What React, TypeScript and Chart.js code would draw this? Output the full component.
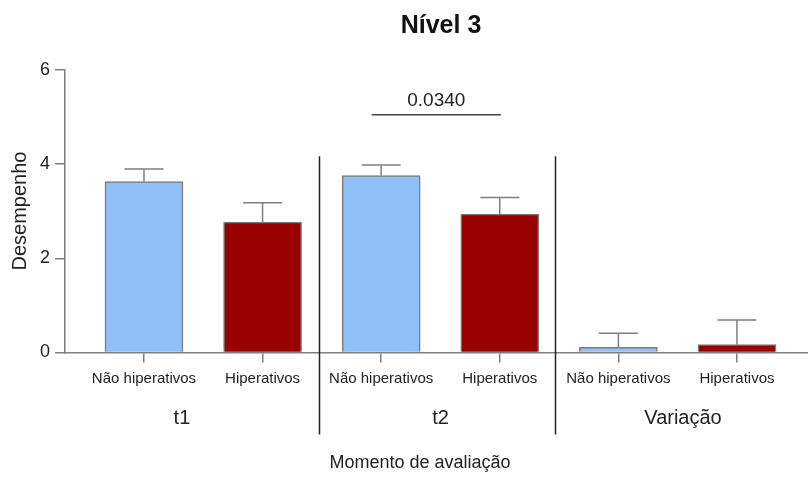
import React, { useEffect, useRef } from "react";
import { Chart, registerables } from "chart.js";

Chart.register(...registerables);

const subLabels = ["Não hiperativos", "Hiperativos", "Não hiperativos", "Hiperativos", "Não hiperativos", "Hiperativos"];
const positions = [1, 2, 3, 4, 5, 6];
const means = [3.63, 2.77, 3.76, 2.94, 0.11, 0.17];
const upper = [3.9, 3.18, 3.98, 3.29, 0.41, 0.69];
const barColors = ["#90BFF9", "#990000", "#90BFF9", "#990000", "#90BFF9", "#990000"];
const groupLabels = ["t1", "t2", "Variação"];
const groupPositions = [1.32, 3.5, 5.545];
const dividerPositions = [2.476, 4.466];
const dividerTop = 4.17;
const sigFrom = 2.92;
const sigTo = 4.01;
const sigLevel = 5.05;
const sigText = "0.0340";
const yTicks = [0, 2, 4, 6];

const FONT = "'Liberation Sans', Arial, Helvetica, sans-serif";

export default function App() {
  const ref = useRef<HTMLCanvasElement | null>(null);

  useEffect(() => {
    const canvas = ref.current;
    if (!canvas) return;

    const overlay = {
      id: "overlay",
      afterDatasetsDraw(chart: any) {
        const ctx = chart.ctx;
        const xs = chart.scales.x;
        const ys = chart.scales.y;
        ctx.save();
        // error bars
        ctx.strokeStyle = "#7f7f7f";
        ctx.lineWidth = 1.5;
        positions.forEach((p, i) => {
          const cx = xs.getPixelForValue(p);
          const y0 = ys.getPixelForValue(means[i]);
          const y1 = ys.getPixelForValue(upper[i]);
          ctx.beginPath();
          ctx.moveTo(cx, y0);
          ctx.lineTo(cx, y1);
          ctx.moveTo(cx - 19.5, y1);
          ctx.lineTo(cx + 19.5, y1);
          ctx.stroke();
        });
        // dividers
        ctx.strokeStyle = "#222";
        ctx.lineWidth = 1.5;
        dividerPositions.forEach((d) => {
          const x = Math.round(xs.getPixelForValue(d)) + 0.5;
          ctx.beginPath();
          ctx.moveTo(x, ys.getPixelForValue(dividerTop));
          ctx.lineTo(x, chart.chartArea.bottom + 82);
          ctx.stroke();
        });
        // significance
        const sy = ys.getPixelForValue(sigLevel);
        ctx.strokeStyle = "#444";
        ctx.lineWidth = 1.5;
        ctx.beginPath();
        ctx.moveTo(xs.getPixelForValue(sigFrom), sy);
        ctx.lineTo(xs.getPixelForValue(sigTo), sy);
        ctx.stroke();
        ctx.fillStyle = "#222";
        ctx.font = `19px ${FONT}`;
        ctx.textAlign = "center";
        ctx.textBaseline = "bottom";
        ctx.fillText(sigText, (xs.getPixelForValue(sigFrom) + xs.getPixelForValue(sigTo)) / 2, sy - 4);
        // group labels
        ctx.font = `20px ${FONT}`;
        ctx.textBaseline = "middle";
        groupLabels.forEach((g, i) => {
          ctx.fillText(g, xs.getPixelForValue(groupPositions[i]), chart.chartArea.bottom + 66);
        });
        // axis title x
        ctx.font = `18px ${FONT}`;
        ctx.fillText("Momento de avaliação", 420, chart.chartArea.bottom + 111);
        // title
        ctx.font = `bold 25px ${FONT}`;
        ctx.fillStyle = "#111";
        ctx.fillText("Nível 3", 441, 26);
        // y title
        ctx.font = `20px ${FONT}`;
        ctx.fillStyle = "#222";
        ctx.translate(20, 211);
        ctx.rotate(-Math.PI / 2);
        ctx.fillText("Desempenho", 0, 0);
        ctx.restore();
      },
    };

    const chart = new Chart(canvas, {
      type: "bar",
      data: {
        datasets: [
          {
            data: positions.map((p, i) => ({ x: p, y: means[i] })),
            backgroundColor: barColors,
            borderColor: "#7a7a7a",
            borderWidth: 1.5,
            barThickness: 78,
          },
        ],
      },
      options: {
        animation: false,
        responsive: false,
        maintainAspectRatio: false,
        layout: { padding: { top: 70, left: 0, right: 0, bottom: 0 } },
        plugins: { legend: { display: false }, tooltip: { enabled: false }, title: { display: false } },
        scales: {
          x: {
            type: "linear",
            offset: false,
            min: 0.334,
            max: 6.599,
            afterBuildTicks: (s: any) => {
              s.ticks = positions.map((p) => ({ value: p }));
            },
            afterFit: (s: any) => {
              s.height = 140.5;
            },
            ticks: {
              autoSkip: false,
              maxRotation: 0,
              padding: 7,
              color: "#222",
              font: { size: 15, family: FONT },
              callback: (v: any) => subLabels[positions.indexOf(Number(v))] ?? "",
            },
            grid: { offset: false, drawOnChartArea: false, tickLength: 10, color: "#7f7f7f", lineWidth: 1.5 },
            border: { color: "#7f7f7f", width: 1.5 },
          },
          y: {
            min: 0,
            max: 6,
            afterBuildTicks: (s: any) => {
              s.ticks = yTicks.map((v) => ({ value: v }));
            },
            afterFit: (s: any) => {
              s.width = 65;
            },
            ticks: { padding: 5, color: "#222", font: { size: 18, family: FONT } },
            grid: { drawOnChartArea: false, tickLength: 10, color: "#7f7f7f", lineWidth: 1.5 },
            border: { color: "#7f7f7f", width: 1.5 },
          },
        },
      },
      plugins: [overlay],
    });
    return () => chart.destroy();
  }, []);

  return (
    <div style={{ position: "fixed", left: 0, top: 0, width: 808, height: 493, background: "#fff" }}>
      <canvas ref={ref} width={808} height={493} style={{ width: 808, height: 493 }} />
    </div>
  );
}
